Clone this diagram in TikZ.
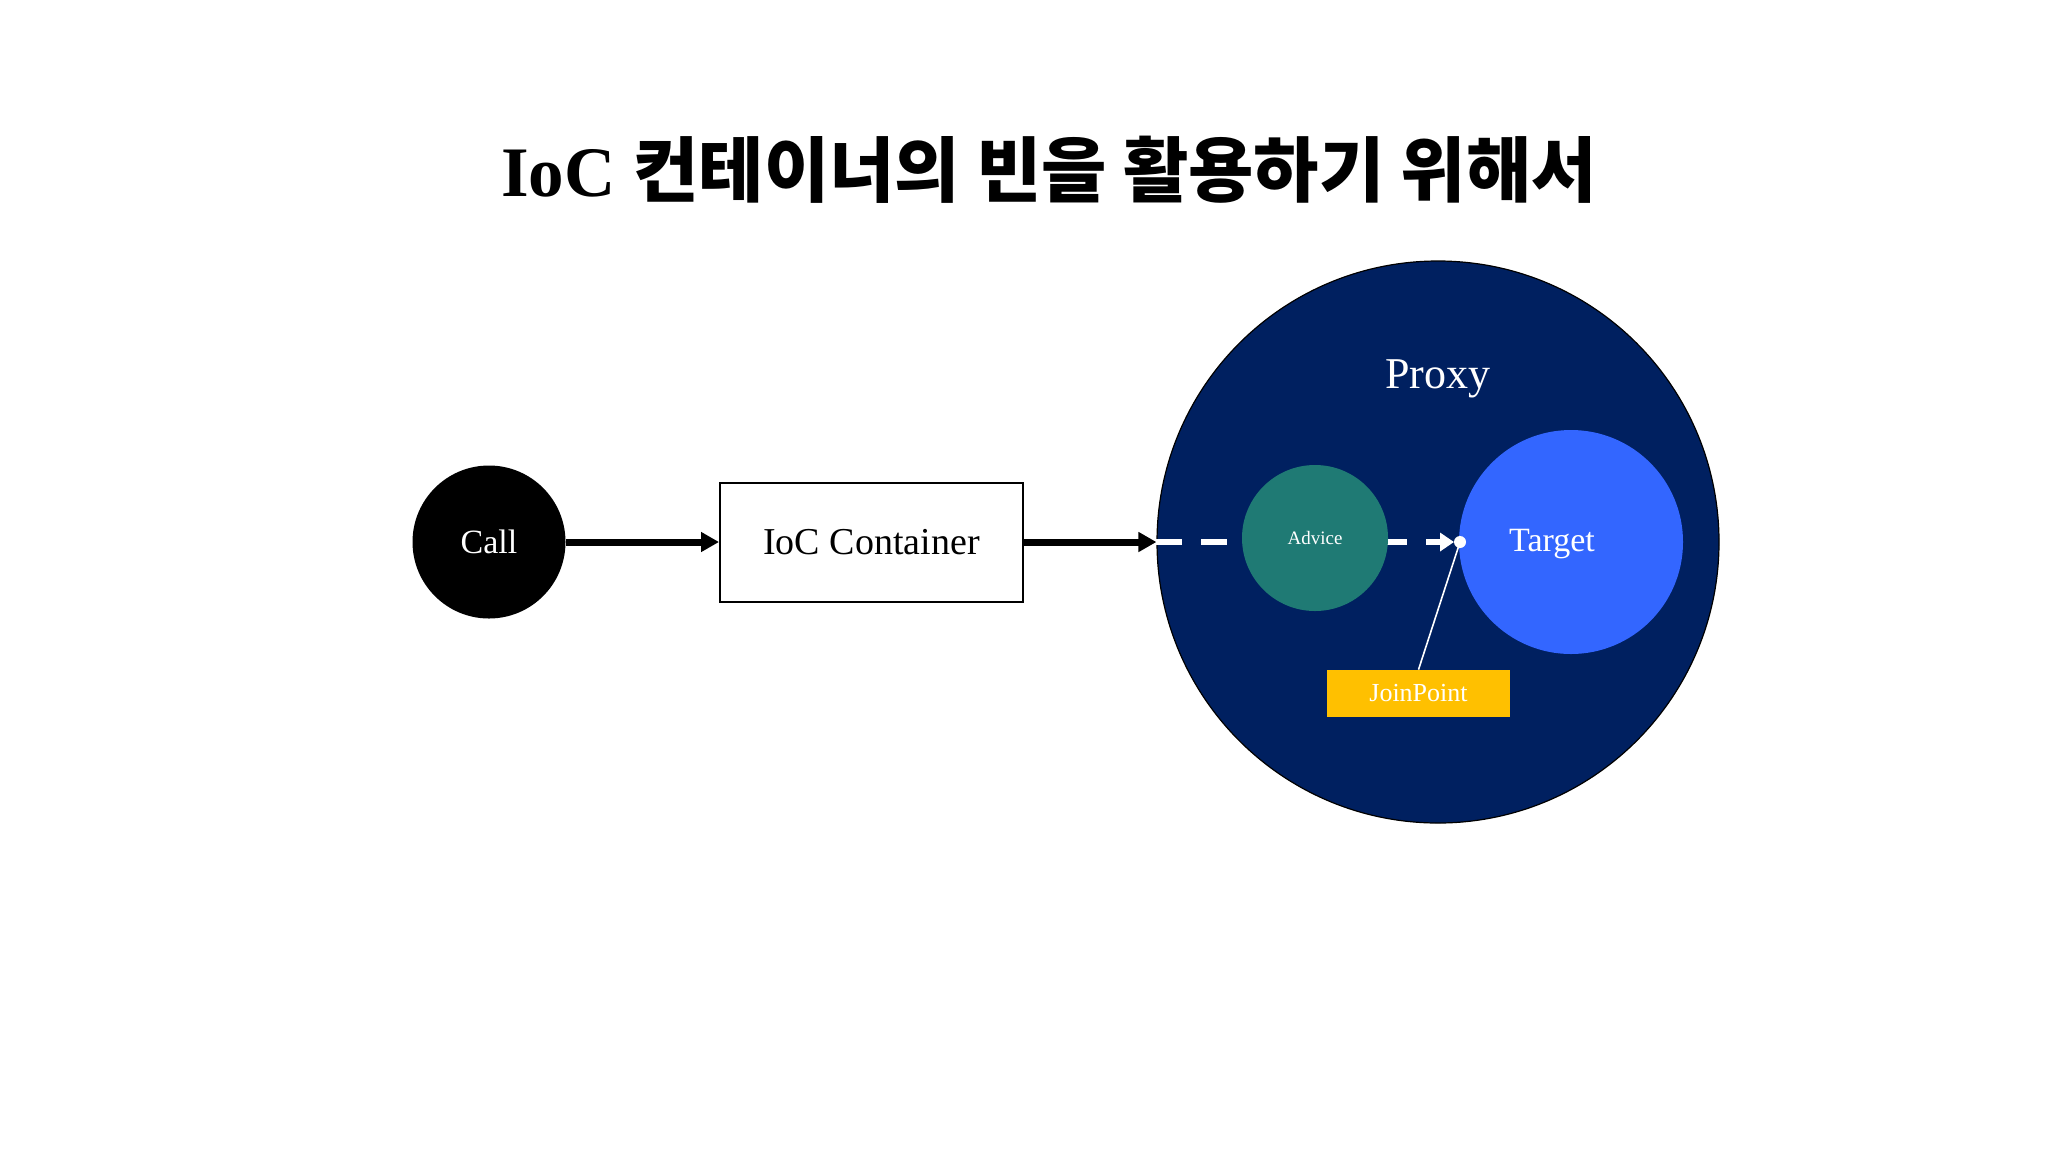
\documentclass[tikz,border=0pt]{standalone}
\usepackage{fontspec}
\setmainfont{Liberation Serif}
\newfontfamily\krfont{Noto Sans CJK KR}
\usetikzlibrary{arrows.meta}
\definecolor{navyproxy}{HTML}{002060}
\definecolor{tealadvice}{HTML}{1F7A74}
\definecolor{bluetarget}{HTML}{3366FF}
\definecolor{goldjp}{HTML}{FFC000}
\tikzset{
  callc/.style={circle, fill=black, text=white, minimum size=76.5pt, inner sep=0pt, font=\fontsize{17}{20}\selectfont},
  iocbox/.style={rectangle, draw=black, line width=1pt, fill=white, minimum width=151.5pt, minimum height=59.5pt, inner sep=0pt, font=\fontsize{19}{22}\selectfont},
  proxyc/.style={circle, draw=black, line width=0.6pt, fill=navyproxy, minimum size=281pt, inner sep=0pt},
  advicec/.style={circle, fill=tealadvice, text=white, minimum size=73pt, inner sep=0pt, font=\fontsize{9.5}{11}\selectfont},
  targetc/.style={circle, fill=bluetarget, minimum size=112pt, inner sep=0pt},
  wlabel/.style={text=white, inner sep=0pt},
  jpbox/.style={rectangle, fill=goldjp, text=white, minimum width=91.5pt, minimum height=23.5pt, inner sep=0pt, font=\fontsize{13}{15}\selectfont},
  jdot/.style={circle, fill=white, minimum size=6pt, inner sep=0pt},
  blkarrow/.style={line width=3.5pt, -{Triangle[length=9pt,width=9.5pt]}},
  whitedash/.style={white, line width=3pt, dash pattern=on 13pt off 9.5pt, -{Triangle[length=7pt,width=9pt]}},
  jpline/.style={white, line width=0.8pt},
  titlestyle/.style={inner sep=0pt, font=\fontsize{35.5}{42}\selectfont\bfseries}
}
\begin{document}
\begin{tikzpicture}[x=0.5pt, y=-0.5pt]
\useasboundingbox (0,0) rectangle (2048,1152);
\node[titlestyle] (title) at (1049,170) {IoC {\krfont 컨테이너의 빈을 활용하기 위해서}};
\node[callc] (call) at (489,542) {Call};
\node[iocbox] (ioc) at (871.5,542) {IoC Container};
\node[proxyc] (proxy) at (1438,542) {};
\node[wlabel, anchor=base, font=\fontsize{22}{26}\selectfont] (proxylbl) at (1438,388) {Proxy};
\coordinate (jpc) at (1460,542);
\draw[blkarrow] (call) -- (ioc);
\draw[blkarrow] (ioc) -- (proxy.west);
\draw[whitedash, shorten >=3pt] (proxy.west) -- (jpc);
\node[advicec] (advice) at (1315,538) {Advice};
\node[targetc] (target) at (1571,542) {};
\node[wlabel, anchor=base, font=\fontsize{17}{20}\selectfont] (targetlbl) at (1552,551) {Target};
\node[jpbox] (joinpoint) at (1418.5,693.5) {JoinPoint};
\node[jdot] (jp) at (jpc) {};
\draw[jpline] (joinpoint.north) -- (jp.center);
\end{tikzpicture}
\end{document}
